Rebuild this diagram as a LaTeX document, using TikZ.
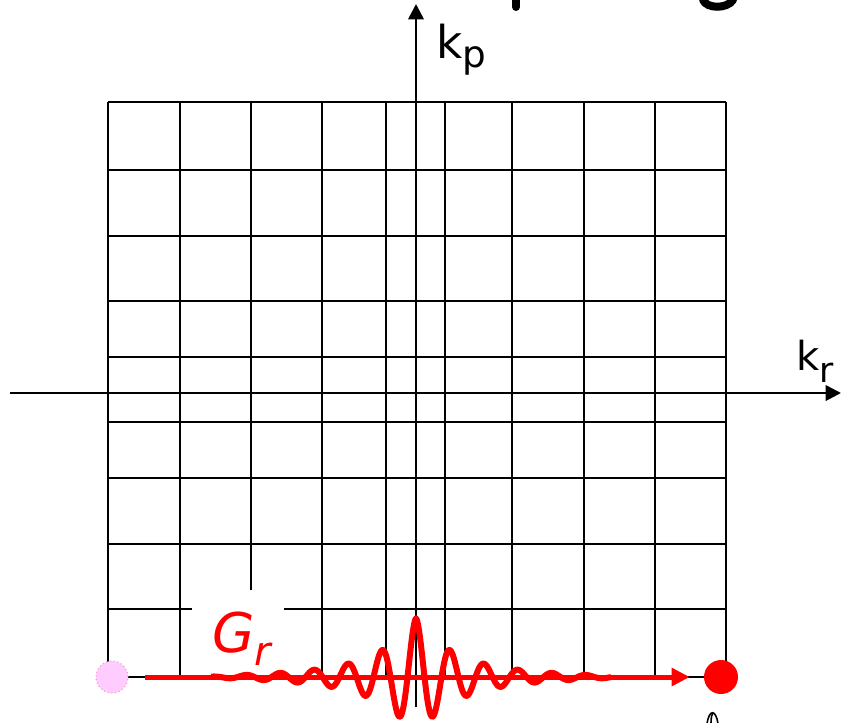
\documentclass[tikz,border=0pt]{standalone}
\usepackage{fontspec}
\setmainfont{DejaVu Sans}
\usetikzlibrary{arrows.meta}
\definecolor{dotpink}{RGB}{255,204,255}
\definecolor{dotedge}{RGB}{255,150,190}
\begin{document}
\begin{tikzpicture}[x=0.75pt,y=-0.75pt,
  gridline/.style={line width=1.9pt},
  axisline/.style={line width=2pt,-{Triangle[length=11.5pt,width=11.5pt]}},
  lbl/.style={inner sep=0pt,anchor=base west},
  ]
\useasboundingbox (0,0) rectangle (841,722);
\fill[white] (0,0) rectangle (841,722);
% grid
\foreach \gx in {108,180,251,322,386,445,512,584,655,726}
  \draw[gridline] (\gx,102) -- (\gx,677);
\foreach \gy in {102,170,236,301,357,422,478,544,609,677}
  \draw[gridline] (108,\gy) -- (726,\gy);
% axes
\coordinate (kpfoot) at (416,707);
\coordinate (kptip) at (416,4);
\coordinate (krfoot) at (10,393);
\coordinate (krtip) at (841,393);
\draw[axisline] (kpfoot) -- (kptip);
\draw[axisline] (krfoot) -- (krtip);
% labels
\node[lbl, font=\fontsize{34}{34}\selectfont] (kplabel) at (436,58)
  {k\raisebox{-7pt}{\fontsize{28}{28}\selectfont p}};
\node[lbl, font=\fontsize{30}{30}\selectfont] (krlabel) at (796,370)
  {k\raisebox{-9pt}{\fontsize{26}{26}\selectfont r}};
% white patch behind G_r
\fill[white] (192,590) rectangle (284,675);
% cut-off title glyph pieces
\draw[line width=6pt, line cap=round] (516,-5) -- (516,7);
\draw[line width=6pt, line cap=round] (703,0) .. controls (707,9) and (727,9) .. (733,0);
% partial shape below
\draw[line width=1.2pt] (707,724) .. controls (709,709) and (716,709) .. (718,724);
\draw[line width=1.2pt] (711,724) .. controls (711,716) and (712,714) .. (713,713);
% dots
\node[circle, minimum size=24pt, inner sep=0pt, fill=dotpink, draw=dotedge, dotted, line width=0.8pt] (start) at (112,677) {};
\node[circle, minimum size=25.5pt, inner sep=0pt, fill=red] (end) at (721,677) {};
% wave
\draw[red, line width=4.5pt, line join=round]
  plot[domain=-205:195, samples=500]
  ({416+\x},{677-(54*exp(-abs(\x)/38)+5*cos(0.4286*\x))*cos(10.588*\x)});
% arrow
\draw[red, line width=3.75pt, -{Triangle[length=13.5pt,width=13pt]}, shorten <=12.5pt, shorten >=10.5pt] (start) -- (end);
% G_r label
\node[lbl, text=red, font=\fontsize{41}{41}\selectfont\itshape] (grlabel) at (212,652)
  {G\raisebox{-10pt}{\fontsize{30}{30}\selectfont r}};
\end{tikzpicture}
\end{document}
